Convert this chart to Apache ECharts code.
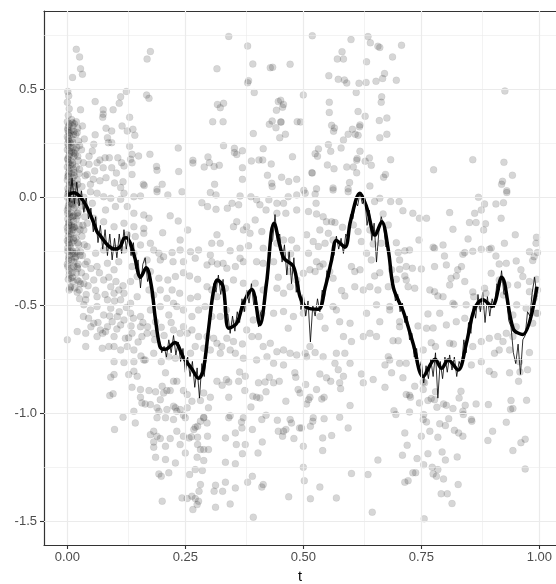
<!DOCTYPE html>
<html>
<head>
<meta charset="utf-8">
<script src="https://cdn.jsdelivr.net/npm/echarts@6/dist/echarts.min.js"></script>
<style>
html,body{margin:0;padding:0;background:#fff;}
#chart{width:556px;height:584px;}
</style>
</head>
<body>
<div id="chart"></div>
<script>
// ---------- tick labels ----------
const xTicks = [0, 0.25, 0.5, 0.75, 1];
const yTicks = [-1.5, -1, -0.5, 0, 0.5];
const xMinor = [0.125, 0.375, 0.625, 0.875];
const yMinor = [-1.25, -0.75, -0.25, 0.25, 0.75];

// ---------- observed points (t, y) ----------
const ptsBand = [
[0.001,0.49],[0.003,0.47],[0.0,0.44],[0.004,0.41],[0.002,0.38],[0.0,0.35],[0.005,0.34],[0.001,0.32],[0.003,0.3],[0.0,0.28],[0.004,0.26],[0.002,0.24],[0.0,0.22],[0.005,0.2],[0.001,0.18],[0.003,0.16],[0.0,0.14],[0.004,0.12],[0.002,0.1],[0.0,0.08],[0.005,0.06],[0.001,0.04],[0.003,0.02],[0.0,0.0],[0.004,-0.02],[0.002,-0.04],[0.0,-0.06],[0.005,-0.08],[0.001,-0.1],[0.003,-0.12],[0.0,-0.14],[0.004,-0.16],[0.002,-0.18],[0.0,-0.2],[0.005,-0.22],[0.001,-0.25],[0.003,-0.28],[0.0,-0.31],[0.004,-0.34],[0.002,-0.38],[0.006,-0.42],
[0.009,0.36],[0.012,0.33],[0.008,0.31],[0.013,0.29],[0.01,0.27],[0.007,0.25],[0.012,0.23],[0.009,0.21],[0.014,0.19],[0.008,0.17],[0.011,0.15],[0.013,0.13],[0.009,0.11],[0.012,0.09],[0.008,0.07],[0.013,0.05],[0.01,0.03],[0.007,0.01],[0.012,-0.01],[0.009,-0.03],[0.014,-0.05],[0.008,-0.07],[0.011,-0.09],[0.013,-0.11],[0.009,-0.13],[0.012,-0.15],[0.008,-0.17],[0.013,-0.19],[0.01,-0.21],[0.007,-0.23],[0.012,-0.26],[0.009,-0.29],[0.014,-0.32],[0.01,-0.35],[0.012,-0.39],
[0.019,0.35],[0.022,0.32],[0.018,0.29],[0.024,0.26],[0.02,0.23],[0.017,0.2],[0.023,0.17],[0.019,0.14],[0.025,0.11],[0.021,0.08],[0.018,0.05],[0.024,0.02],[0.02,-0.01],[0.017,-0.04],[0.023,-0.07],[0.019,-0.1],[0.025,-0.13],[0.021,-0.16],[0.018,-0.19],[0.024,-0.22],[0.02,-0.25],[0.017,-0.28],[0.023,-0.31],[0.019,-0.35],[0.025,-0.39],[0.021,-0.44],
[0.032,0.33],[0.036,0.27],[0.03,0.22],[0.034,0.16],[0.038,0.1],[0.031,0.05],[0.035,0.0],[0.03,-0.04],[0.037,-0.09],[0.033,-0.13],[0.031,-0.18],[0.036,-0.22],[0.032,-0.27],[0.038,-0.31],[0.03,-0.35],[0.035,-0.4],[0.04,-0.45],
[0.003,0.33],[0.006,0.3],[0.002,0.27],[0.006,0.23],[0.003,0.19],[0.006,0.15],[0.002,0.11],[0.006,0.07],[0.003,0.03],[0.006,-0.01],[0.002,-0.05],[0.006,-0.09],[0.003,-0.13],[0.006,-0.17],[0.002,-0.21],[0.006,-0.25],[0.003,-0.29],[0.015,0.34],[0.016,0.22],[0.015,0.1],[0.016,-0.02],[0.015,-0.14],[0.016,-0.26],
[0.001,0.31],[0.004,0.285],[0.001,0.25],[0.004,0.215],[0.001,0.175],[0.004,0.135],[0.001,0.095],[0.004,0.055],[0.001,0.015],[0.004,-0.03],[0.001,-0.075],[0.004,-0.115],[0.001,-0.155],[0.004,-0.195],[0.001,-0.235],[0.004,-0.27],[0.001,-0.32],[0.004,-0.36],
[0.011,0.345],[0.014,0.305],[0.011,0.255],[0.014,0.205],[0.011,0.16],[0.014,0.115],[0.011,0.065],[0.014,0.015],[0.011,-0.035],[0.014,-0.085],[0.011,-0.14],[0.014,-0.2],[0.011,-0.25],[0.014,-0.3],[0.011,-0.37],[0.016,-0.42],
[0.021,0.3],[0.026,0.24],[0.022,0.19],[0.026,0.13],[0.022,0.06],[0.027,-0.02],[0.022,-0.085],[0.027,-0.15],[0.022,-0.21],[0.027,-0.27],[0.022,-0.33],[0.028,-0.4],[0.026,-0.47],[0.044,-0.41]
];
const ptsTopLeft = [
[0.019,0.685],[0.026,0.65],[0.028,0.595],[0.032,0.57],[0.011,0.555],[0.169,0.64],[0.176,0.675],[0.342,0.745],[0.317,0.595],[0.382,0.70],[0.393,0.617],[0.43,0.6],[0.435,0.602],[0.472,0.616],[0.382,0.53],[0.384,0.54],[0.396,0.485],[0.125,0.49],[0.113,0.465],[0.11,0.435],[0.097,0.405],[0.059,0.443],[0.028,0.405],[0.076,0.405],[0.076,0.385],[0.075,0.37],[0.168,0.473],[0.173,0.458],[0.132,0.37],[0.116,0.33],[0.127,0.307],[0.139,0.315],[0.143,0.287],[0.082,0.32],[0.085,0.276],[0.087,0.253],[0.094,0.307],[0.094,0.253],[0.059,0.289],[0.132,0.236],[0.235,0.228],[0.175,0.199],[0.151,0.191],[0.137,0.199],[0.134,0.176],[0.137,0.16],[0.107,0.183],[0.115,0.16],[0.12,0.145],[0.089,0.183],[0.08,0.183],[0.069,0.173],[0.076,0.137],[0.056,0.245],[0.053,0.214],[0.046,0.19],[0.046,0.153],[0.063,0.16],[0.058,0.122],[0.094,0.137],[0.104,0.112],[0.118,0.072],[0.137,0.106],[0.082,0.091],[0.1,0.066],[0.113,0.045],[0.069,0.076],[0.055,0.083],[0.042,0.106],[0.049,0.06],[0.161,0.06],[0.163,0.054],[0.201,0.06],[0.19,0.037],[0.236,0.119],[0.189,0.143],[0.19,0.125],[0.266,0.171],[0.266,0.159],[0.298,0.187],[0.29,0.14],[0.301,0.16],[0.311,0.142],[0.322,0.148],[0.312,0.06],[0.331,0.239],[0.354,0.227],[0.354,0.207],[0.359,0.198],[0.371,0.215],[0.371,0.137],[0.371,0.083],[0.308,0.35],[0.33,0.35],[0.318,0.43],[0.324,0.415],[0.331,0.435],[0.39,0.168],[0.406,0.173],[0.414,0.173],[0.415,0.225],[0.432,0.154],[0.394,0.295],[0.424,0.102],[0.433,0.065],[0.434,0.05],[0.454,0.093],[0.469,0.073],[0.486,0.083],[0.477,0.188],[0.428,0.338],[0.434,0.353],[0.442,0.322],[0.452,0.349],[0.453,0.348],[0.45,0.276],[0.462,0.292],[0.443,0.403],[0.447,0.443],[0.452,0.449],[0.456,0.417],[0.458,0.43],[0.487,0.35]
];
const ptsTopRight = [
[0.519,0.748],[0.601,0.73],[0.637,0.744],[0.642,0.715],[0.658,0.699],[0.662,0.694],[0.708,0.704],[0.582,0.674],[0.572,0.64],[0.585,0.64],[0.634,0.627],[0.689,0.65],[0.554,0.563],[0.574,0.546],[0.587,0.543],[0.592,0.529],[0.618,0.528],[0.633,0.532],[0.654,0.537],[0.668,0.55],[0.672,0.573],[0.697,0.542],[0.612,0.485],[0.5,0.474],[0.555,0.44],[0.555,0.393],[0.666,0.465],[0.665,0.44],[0.616,0.397],[0.631,0.375],[0.661,0.355],[0.677,0.367],[0.56,0.333],[0.566,0.321],[0.564,0.306],[0.604,0.315],[0.62,0.335],[0.619,0.326],[0.61,0.292],[0.616,0.287],[0.595,0.292],[0.585,0.265],[0.58,0.228],[0.662,0.276],[0.677,0.292],[0.494,0.349],[0.927,0.492],[0.553,0.244],[0.532,0.224],[0.525,0.202],[0.53,0.19],[0.558,0.213],[0.62,0.213],[0.614,0.18],[0.613,0.172],[0.631,0.167],[0.64,0.182],[0.644,0.148],[0.685,0.174],[0.551,0.15],[0.565,0.132],[0.592,0.14],[0.606,0.14],[0.613,0.113],[0.518,0.114],[0.519,0.112],[0.674,0.106],[0.67,0.093],[0.598,0.068],[0.641,0.052],[0.563,0.043],[0.528,0.039],[0.501,0.032],[0.595,0.039],[0.776,0.127],[0.859,0.174],[0.925,0.162],[0.943,0.102],[0.922,0.074],[0.92,0.06],[0.931,0.03]
];
const ptsMidLeft = [
[.155,.006],[.19,.026],[.213,.011],[.243,.026],[.303,.022],[.315,.011],[.366,.006],[.389,.003],[.401,-.012],[.427,-.012],[.444,-.028],[.458,-.028],[.468,.003],[.486,.011],[.141,.003],[.12,.019],[.113,-.009],[.092,-.005],[.077,.003],[.063,.019],[.049,.026],
[.285,-.025],[.297,-.043],[.315,-.056],[.339,-.051],[.349,-.028],[.363,-.035],[.408,-.035],[.421,-.059],[.444,-.074],[.463,-.074],[.486,-.059],[.081,-.059],[.102,-.043],[.127,-.043],[.141,-.074],[.162,-.082],[.173,-.097],[.218,-.086],[.235,-.11],[.039,-.051],[.053,-.028],[.021,-.074],
[.359,-.113],[.38,-.136],[.398,-.105],[.412,-.159],[.352,-.136],[.373,-.151],[.387,-.167],[.317,-.174],[.324,-.213],[.306,-.213],[.239,-.198],[.255,-.151],[.202,-.164],[.141,-.136],[.162,-.144],[.12,-.12],[.099,-.136],[.077,-.113],[.056,-.097],[.042,-.12],[.035,-.151],[.014,-.136],
[.127,-.174],[.144,-.182],[.162,-.167],[.176,-.213],[.155,-.221],[.141,-.259],[.12,-.244],[.102,-.236],[.077,-.244],[.06,-.259],[.042,-.228],[.028,-.252],[.018,-.275],[.194,-.259],[.222,-.256],[.239,-.244],[.261,-.252],[.278,-.244],[.303,-.267],[.345,-.248],[.366,-.236],[.384,-.225],[.415,-.236],[.444,-.213],[.458,-.198],[.475,-.198],[.486,-.236],[.473,-.262],[.183,-.244],[.169,-.29],
[.204,-.275],[.197,-.29],[.224,-.298],[.246,-.298],[.271,-.282],[.306,-.298],[.318,-.309],[.33,-.306],[.338,-.329],[.356,-.321],[.366,-.282],[.373,-.298],[.401,-.298],[.415,-.306],[.437,-.298],[.447,-.37],[.472,-.344],[.486,-.383],[.007,-.329],[.021,-.321],[.042,-.298],[.063,-.321],[.085,-.306],[.099,-.336],[.109,-.298],[.137,-.321],[.148,-.367],[.176,-.344],[.194,-.375],[.213,-.383],[.229,-.367],[.246,-.349],[.259,-.364],[.276,-.38],[.296,-.313],
[.007,-.375],[.021,-.383],[.039,-.367],[.056,-.383],[.077,-.383],[.092,-.414],[.109,-.429],[.12,-.444],[.134,-.39],[.173,-.429],[.183,-.452],[.197,-.429],[.222,-.429],[.238,-.444],[.261,-.468],[.276,-.46],[.296,-.414],[.306,-.429],[.317,-.46],[.335,-.421],[.352,-.383],[.373,-.398],[.398,-.398],[.415,-.429],[.444,-.421],[.472,-.414],[.458,-.444],[.007,-.414],[.004,-.429],[.025,-.429],[.039,-.475],[.063,-.46],[.085,-.475],[.099,-.444],[.113,-.475],[.134,-.491],[.148,-.46],[.211,-.468],[.225,-.491],
[.035,-.498],[.049,-.522],[.063,-.506],[.077,-.545],[.092,-.514],[.106,-.552],[.12,-.568],[.134,-.537],[.155,-.552],[.176,-.522],[.197,-.506],[.215,-.545],[.232,-.506],[.246,-.522],[.264,-.552],[.278,-.522],[.292,-.506],[.306,-.552],[.324,-.552],[.337,-.522],[.354,-.583],[.373,-.514],[.394,-.568],[.412,-.537],[.437,-.537],[.458,-.529],[.479,-.552],[.468,-.606],[.034,-.552],[.056,-.583],[.07,-.614],[.085,-.599],[.095,-.576],[.113,-.591],[.135,-.596],[.155,-.599],[.169,-.63],[.187,-.576],[.199,-.602],
[0,-.66],[.021,-.622],[.039,-.63],[.063,-.645],[.081,-.622],[.099,-.645],[.123,-.653],[.137,-.63],[.158,-.645],[.183,-.63],[.141,-.707],[.127,-.691],[.113,-.707],[.099,-.691],[.074,-.699],[.039,-.691],[.088,-.691],[.156,-.735],[.165,-.753],[.183,-.722],[.225,-.614],[.239,-.63],[.246,-.599],[.254,-.63],[.264,-.614],[.278,-.645],[.296,-.645],[.31,-.653],[.317,-.676],[.327,-.691],[.338,-.653],[.352,-.668],[.371,-.679],[.38,-.614],[.391,-.645],[.405,-.645],[.415,-.691],[.43,-.676],[.444,-.715],[.458,-.707],[.472,-.722],[.486,-.73],[.099,-.761],[.12,-.765],[.141,-.761],[.162,-.753],[.199,-.761],[.215,-.738],[.229,-.745],[.261,-.722],[.271,-.691],[.289,-.699],[.303,-.707],[.324,-.722],[.345,-.707],[.356,-.722],[.373,-.745],[.401,-.753],[.423,-.738],[.437,-.769],[.458,-.776],
[.05,-.33],[.068,-.35],[.088,-.37],[.103,-.39],[.118,-.41],[.06,-.43],[.08,-.45],[.1,-.48],[.125,-.51],[.045,-.56],[.065,-.58],[.09,-.55],[.11,-.53],[.14,-.56],[.16,-.58],[.05,-.6],[.075,-.63],[.105,-.61],[.13,-.65],[.15,-.67],[.17,-.6],[.185,-.66],[.205,-.64],[.22,-.58]
];
const ptsMidRight = [
[.504,.019],[.525,.015],[.563,.034],[.595,.026],[.651,-.02],[.662,-.005],[.685,-.02],[.703,-.02],[.711,-.062],[.732,-.074],[.511,-.066],[.528,-.077],[.542,-.09],[.527,-.028],[.81,-.071],[.817,-.148],[.871,0],[.884,-.031],[.877,-.059],[.863,-.074],[.908,-.031],[.924,-.025],[.931,.022],[.852,-.117],[.866,-.117],[.886,-.123],[.882,-.151],[.919,-.097],[.949,-.174],[.849,-.193],[.842,-.256],[.838,-.264],[.859,-.25],[.877,-.241],[.898,-.236],[.894,-.241],[.908,-.272],[.915,-.309],[.93,-.306],[.951,-.295],[.986,-.293],[.989,-.275],[.996,-.256],[.993,-.213],[.994,-.185],[.979,-.252],[.926,-.213],[.799,-.272],[.796,-.221],[.775,-.231],[.778,-.236],
[.549,-.113],[.56,-.113],[.567,-.117],[.535,-.151],[.553,-.167],[.563,-.198],[.507,-.174],[.521,-.205],[.511,-.259],[.532,-.228],[.546,-.213],[.583,-.139],[.606,-.128],[.616,-.159],[.641,-.151],[.623,-.205],[.634,-.259],[.648,-.216],[.651,-.167],[.665,-.213],[.669,-.077],[.68,-.128],[.697,-.21],[.701,-.256],[.715,-.248],[.725,-.244],[.704,-.29],[.718,-.321],[.731,-.329],[.745,-.198],[.75,-.332],[.746,-.097],[.761,-.097],
[.5,-.352],[.514,-.336],[.525,-.344],[.535,-.321],[.542,-.309],[.528,-.298],[.556,-.344],[.563,-.375],[.602,-.321],[.609,-.344],[.62,-.336],[.644,-.29],[.651,-.364],[.662,-.349],[.687,-.336],[.697,-.38],[.704,-.333],[.715,-.364],[.718,-.383],[.722,-.414],[.736,-.421],[.68,-.414],[.641,-.414],[.658,-.429],[.627,-.429],[.609,-.414],[.588,-.457],[.581,-.432],
[.778,-.321],[.803,-.313],[.813,-.375],[.81,-.406],[.827,-.336],[.835,-.321],[.824,-.364],[.842,-.39],[.768,-.429],[.778,-.437],[.796,-.46],[.817,-.491],[.785,-.457],[.859,-.438],[.861,-.46],[.884,-.421],[.887,-.444],[.898,-.352],[.915,-.383],[.933,-.406],[.961,-.336],[.965,-.367],[.954,-.406],[.979,-.39],[.994,-.38],[.996,-.429],[.979,-.437],[.989,-.468],[.952,-.498],[.944,-.545],[.972,-.514],[.996,-.537],[.924,-.452],[.898,-.498],[.877,-.506],[.845,-.498],[.82,-.498],
[.5,-.537],[.535,-.552],[.577,-.576],[.599,-.583],[.563,-.506],[.57,-.522],[.634,-.537],[.655,-.498],[.683,-.506],[.662,-.576],[.683,-.522],[.704,-.576],[.641,-.63],[.655,-.645],[.627,-.645],[.585,-.645],[.602,-.668],[.546,-.606],[.514,-.691],[.504,-.722],[.525,-.719],[.507,-.738],[.57,-.722],[.588,-.722],[.599,-.769],[.567,-.769],[.542,-.738],[.69,-.664],[.701,-.664],[.704,-.599],[.743,-.596],[.761,-.606],[.775,-.605],[.764,-.54],[.789,-.537],[.803,-.591],[.824,-.576],[.842,-.56],[.771,-.673],[.78,-.691],[.81,-.676],[.818,-.679],[.859,-.691],[.877,-.668],[.894,-.653],[.912,-.645],[.923,-.668],[.93,-.63],[.944,-.645],[.951,-.599],[.986,-.583],[.994,-.537],[.915,-.707],[.905,-.722],[.937,-.707],[.958,-.761],[.979,-.719],[.877,-.761],[.856,-.776],[.68,-.738],[.683,-.753],[.673,-.776],[.704,-.769],[.718,-.769],[.754,-.707]
];
const ptsLowLeft = [
[.092,-.833],[.099,-.821],[.09,-.918],[.097,-.91],[.13,-.821],[.141,-.805],[.148,-.829],[.137,-.88],[.155,-.89],[.173,-.895],[.187,-.901],[.155,-.926],[.158,-.952],[.165,-.957],[.176,-.96],[.19,-.975],[.197,-.937],[.204,-.906],[.211,-.895],[.218,-.895],[.201,-.875],[.208,-.813],[.225,-.852],[.232,-.852],[.246,-.895],[.254,-.913],[.264,-.944],[.282,-.941],[.289,-.906],[.303,-.926],[.299,-.975],[.282,-1.037],[.289,-1.018],[.296,-1.045],[.254,-.975],[.239,-.983],[.229,-.975],[.225,-.967],[.232,-.991],[.246,-1.009],[.25,-1.021],[.225,-1.029],[.208,-1.021],[.19,-1.021],[.194,-.991],[.211,-.983],[.141,-.991],[.144,-1.045],[.118,-1.018],[.1,-1.075],[.176,-1.099],[.183,-1.083],[.19,-1.106],[.197,-1.117],[.183,-1.133],[.183,-1.157],[.208,-1.153],[.218,-1.117],[.232,-1.083],[.239,-1.145],[.246,-1.106],[.258,-1.114],[.263,-1.109],[.276,-1.111],[.297,-1.106],[.268,-1.075],[.271,-1.065],[.276,-1.06],[.289,-1.021],[.276,-1.145],[.282,-1.168],[.289,-1.168],[.299,-1.168],[.25,-1.184],[.275,-1.204],[.289,-1.219],[.229,-1.23],[.208,-1.214],[.187,-1.204],[.194,-1.281],[.199,-1.292],[.215,-1.276],[.259,-1.284],[.271,-1.261],[.286,-1.265],[.282,-1.33],[.279,-1.361],[.264,-1.384],[.243,-1.392],[.254,-1.395],[.271,-1.395],[.278,-1.407],[.275,-1.423],[.266,-1.446],[.201,-1.407],[.314,-1.333],[.311,-1.361],[.329,-1.361],[.335,-1.319],[.356,-1.346],[.314,-1.435],[.345,-1.42],[.382,-1.319],[.392,-1.292],[.412,-1.342],[.415,-1.33],[.394,-1.481],[.469,-1.387],[.335,-1.114],[.356,-1.091],[.358,-1.145],[.377,-1.145],[.371,-1.187],[.335,-1.227],[.356,-1.234],[.404,-1.184],[.413,-1.133],[.392,-1.075],[.37,-1.068],[.369,-1.04],[.342,-1.021],[.345,-1.011],[.373,-1.021],[.412,-1.029],[.421,-1.009],[.445,-1.032],[.472,-1.029],[.475,-1.045],[.458,-1.083],[.456,-1.106],[.447,-1.083],[.463,-1.075],[.48,-1.117],[.492,-1.068],[.389,-.971],[.393,-.921],[.401,-.926],[.408,-.929],[.421,-.901],[.376,-.895],[.328,-.87],[.342,-.855],[.342,-.926],[.363,-.852],[.365,-.809],[.377,-.829],[.405,-.859],[.419,-.855],[.428,-.833],[.437,-.859],[.449,-.852],[.482,-.813],[.484,-.833],[.463,-.944],[.489,-.89],[.317,-.852],[.337,-.844]
];
const ptsLowRight = [
[.535,-.818],[.549,-.836],[.558,-.852],[.574,-.798],[.585,-.829],[.577,-.859],[.579,-.886],[.623,-.818],[.627,-.859],[.648,-.844],[.673,-.88],[.687,-.813],[.711,-.836],[.736,-.875],[.757,-.859],[.505,-.867],[.528,-.89],[.539,-.934],[.544,-.926],[.511,-.937],[.514,-.926],[.507,-.957],[.493,-.906],[.599,-.964],[.577,-1.018],[.595,-1.068],[.544,-1.025],[.521,-1.021],[.52,-1.037],[.515,-1.06],[.496,-1.068],[.56,-1.103],[.541,-1.114],[.541,-1.173],[.5,-1.153],[.5,-1.25],[.502,-1.312],[.535,-1.342],[.515,-1.396],[.57,-1.392],[.602,-1.279],[.637,-1.284],[.658,-1.217],[.646,-1.458],[.718,-.913],[.725,-.917],[.727,-.926],[.746,-.952],[.754,-.89],[.754,-.855],[.764,-.941],[.771,-.932],[.78,-.901],[.778,-.937],[.783,-.972],[.797,-.957],[.803,-.963],[.817,-.978],[.83,-.929],[.834,-.898],[.843,-.963],[.838,-.991],[.839,-1.006],[.856,-1.029],[.857,-1.037],[.866,-.957],[.892,-.96],[.894,-.805],[.904,-.821],[.937,-.813],[.94,-.941],[.944,-.978],[.939,-.981],[.956,-.852],[.959,-.809],[.973,-.94],[.975,-.798],[.93,-1.042],[.901,-1.083],[.891,-1.126],[.944,-1.173],[.961,-1.136],[.97,-1.12],[.97,-1.258],[.692,-.988],[.696,-1.006],[.725,-.994],[.755,-1.006],[.754,-1.029],[.761,-1.04],[.789,-1.049],[.801,-1.057],[.808,-1.025],[.82,-1.079],[.829,-1.091],[.838,-1.106],[.768,-1.083],[.75,-1.106],[.785,-1.111],[.715,-1.091],[.72,-1.148],[.71,-1.194],[.741,-1.21],[.755,-1.238],[.764,-1.187],[.794,-1.179],[.801,-1.217],[.826,-1.202],[.773,-1.25],[.785,-1.261],[.775,-1.281],[.782,-1.292],[.797,-1.304],[.738,-1.275],[.732,-1.276],[.722,-1.312],[.715,-1.319],[.828,-1.33],[.792,-1.373],[.805,-1.373],[.815,-1.418],[.756,-1.489]
];

// ---------- smoothed estimate (thick line) ----------
const smoothT = [0,0.013,0.027,0.041,0.055,0.063,0.069,0.087,0.101,0.112,0.12,0.125,0.134,0.143,0.155,0.167,0.178,0.186,0.196,0.204,0.211,0.228,0.246,0.264,0.278,0.288,0.299,0.309,0.318,0.33,0.342,0.359,0.373,0.391,0.408,0.422,0.438,0.458,0.479,0.493,0.507,0.532,0.546,0.56,0.57,0.588,0.6,0.62,0.634,0.652,0.666,0.68,0.691,0.712,0.733,0.754,0.779,0.793,0.807,0.828,0.845,0.862,0.88,0.9,0.92,0.945,0.965,0.995];
const smoothY = [0.01,0.021,0.003,-0.044,-0.113,-0.16,-0.175,-0.225,-0.24,-0.228,-0.19,-0.187,-0.215,-0.28,-0.37,-0.326,-0.41,-0.553,-0.69,-0.704,-0.702,-0.672,-0.742,-0.795,-0.838,-0.8,-0.614,-0.444,-0.383,-0.414,-0.606,-0.583,-0.491,-0.427,-0.59,-0.398,-0.12,-0.28,-0.32,-0.46,-0.51,-0.518,-0.42,-0.29,-0.2,-0.231,-0.11,0.019,-0.045,-0.175,-0.113,-0.244,-0.42,-0.53,-0.68,-0.83,-0.75,-0.792,-0.753,-0.8,-0.68,-0.52,-0.475,-0.505,-0.37,-0.61,-0.635,-0.414];

// ---------- raw estimate (thin line) ----------
const rawT = [0,0.005,0.01,0.015,0.02,0.025,0.03,0.035,0.04,0.045,0.05,0.055,0.06,0.065,0.07,0.075,0.08,0.085,0.09,0.095,0.1,0.105,0.11,0.115,0.12,0.125,0.13,0.135,0.14,0.145,0.15,0.155,0.16,0.165,0.17,0.175,0.18,0.185,0.19,0.195,0.2,0.205,0.21,0.215,0.22,0.225,0.23,0.235,0.24,0.245,0.25,0.255,0.26,0.265,0.27,0.275,0.28,0.285,0.29,0.295,0.3,0.305,0.31,0.315,0.32,0.325,0.33,0.335,0.34,0.345,0.35,0.355,0.36,0.365,0.37,0.375,0.38,0.385,0.39,0.395,0.4,0.405,0.41,0.415,0.42,0.425,0.43,0.435,0.44,0.445,0.45,0.455,0.46,0.465,0.47,0.475,0.48,0.485,0.49,0.495,0.5,0.505,0.51,0.515,0.52,0.525,0.53,0.535,0.54,0.545,0.55,0.555,0.56,0.565,0.57,0.575,0.58,0.585,0.59,0.595,0.6,0.605,0.61,0.615,0.62,0.625,0.63,0.635,0.64,0.645,0.65,0.655,0.66,0.665,0.67,0.675,0.68,0.685,0.69,0.695,0.7,0.705,0.71,0.715,0.72,0.725,0.73,0.735,0.74,0.745,0.75,0.755,0.76,0.765,0.77,0.775,0.78,0.785,0.79,0.795,0.8,0.805,0.81,0.815,0.82,0.825,0.83,0.835,0.84,0.845,0.85,0.855,0.86,0.865,0.87,0.875,0.88,0.885,0.89,0.895,0.9,0.905,0.91,0.915,0.92,0.925,0.93,0.935,0.94,0.945,0.95,0.955,0.96,0.965,0.97,0.975,0.98,0.985,0.99,0.995];
const rawY = [0.05,-0.02,0.09,-0.03,0.07,-0.04,0.03,-0.07,0.0,-0.1,-0.05,-0.16,-0.09,-0.21,-0.13,-0.24,-0.15,-0.27,-0.17,-0.29,-0.19,-0.28,-0.17,-0.26,-0.15,-0.24,-0.16,-0.27,-0.21,-0.33,-0.29,-0.42,-0.31,-0.28,-0.39,-0.35,-0.47,-0.51,-0.64,-0.66,-0.72,-0.69,-0.74,-0.66,-0.72,-0.64,-0.73,-0.67,-0.76,-0.7,-0.81,-0.74,-0.83,-0.76,-0.88,-0.79,-0.93,-0.77,-0.83,-0.72,-0.57,-0.55,-0.4,-0.44,-0.36,-0.45,-0.38,-0.55,-0.54,-0.63,-0.55,-0.62,-0.53,-0.58,-0.47,-0.53,-0.43,-0.49,-0.4,-0.5,-0.46,-0.6,-0.53,-0.52,-0.39,-0.38,-0.22,-0.2,-0.08,-0.2,-0.17,-0.3,-0.22,-0.36,-0.25,-0.4,-0.28,-0.44,-0.39,-0.52,-0.45,-0.55,-0.48,-0.67,-0.5,-0.55,-0.47,-0.53,-0.43,-0.46,-0.34,-0.37,-0.26,-0.27,-0.18,-0.24,-0.19,-0.26,-0.17,-0.19,-0.08,-0.1,-0.02,-0.04,0.02,-0.03,0.0,-0.13,-0.06,-0.2,-0.12,-0.3,-0.16,-0.09,-0.13,-0.23,-0.21,-0.36,-0.38,-0.48,-0.45,-0.53,-0.49,-0.58,-0.55,-0.66,-0.63,-0.74,-0.7,-0.8,-0.76,-0.86,-0.78,-0.84,-0.75,-0.83,-0.72,-0.93,-0.76,-0.84,-0.74,-0.81,-0.73,-0.8,-0.74,-0.83,-0.76,-0.79,-0.66,-0.72,-0.58,-0.63,-0.5,-0.56,-0.45,-0.53,-0.44,-0.58,-0.46,-0.55,-0.47,-0.51,-0.4,-0.43,-0.34,-0.45,-0.44,-0.57,-0.6,-0.72,-0.77,-0.68,-0.82,-0.66,-0.64,-0.53,-0.55,-0.44,-0.37,-0.46];

// ---------- build ----------
const points = [].concat(ptsBand, ptsTopLeft, ptsTopRight, ptsMidLeft, ptsMidRight, ptsLowLeft, ptsLowRight);
const smoothData = smoothT.map((t, i) => [t, smoothY[i]]);
const rawData = rawT.map((t, i) => [t, rawY[i]]);

const X_MIN = -0.0494, X_MAX = 1.0353;
const gridColor = '#EBEBEB';
const frame = '#333333';
const fontFam = 'Liberation Sans, Arial, sans-serif';
function vLines(vals) { return vals.map(v => ({ xAxis: v })); }
function hLines(vals) { return vals.map(v => ({ yAxis: v })); }

const chart = echarts.init(document.getElementById('chart'), null, { renderer: 'canvas' });
chart.setOption({
  animation: false,
  backgroundColor: '#fff',
  textStyle: { fontFamily: fontFam },
  grid: { left: 44, top: 11, right: 0, bottom: 39, show: false, containLabel: false, outerBoundsMode: 'none' },
  xAxis: [{
    type: 'value', min: X_MIN, max: X_MAX, position: 'bottom',
    name: 't', nameLocation: 'middle', nameGap: 24,
    nameTextStyle: { color: '#000', fontSize: 14.5, fontFamily: fontFam },
    axisLine: { show: true, onZero: false, lineStyle: { color: frame, width: 1.2 } },
    axisTick: { show: true, customValues: xTicks, length: 4, lineStyle: { color: frame, width: 1.1 } },
    axisLabel: { customValues: xTicks, color: '#4D4D4D', fontSize: 13, margin: 6,
      formatter: v => v.toFixed(2) },
    splitLine: { show: false }
  }, {
    type: 'value', min: X_MIN, max: X_MAX, position: 'top',
    axisLine: { show: true, onZero: false, lineStyle: { color: frame, width: 1.2 } },
    axisTick: { show: false }, axisLabel: { show: false }, splitLine: { show: false }
  }],
  yAxis: {
    type: 'value', min: -1.61, max: 0.8625,
    axisLine: { show: true, onZero: false, lineStyle: { color: frame, width: 1.2 } },
    axisTick: { show: true, customValues: yTicks, length: 4, lineStyle: { color: frame, width: 1.1 } },
    axisLabel: { customValues: yTicks, color: '#4D4D4D', fontSize: 13, margin: 7,
      formatter: v => v.toFixed(1) },
    splitLine: { show: false }
  },
  series: [
    {
      type: 'line', data: [], z: 0, silent: true,
      markLine: {
        silent: true, symbol: ['none', 'none'], label: { show: false }, animation: false,
        lineStyle: { color: gridColor, width: 0.6, type: 'solid' },
        data: vLines(xMinor).concat(hLines(yMinor))
      }
    },
    {
      type: 'line', data: [], z: 0, silent: true,
      markLine: {
        silent: true, symbol: ['none', 'none'], label: { show: false }, animation: false,
        lineStyle: { color: gridColor, width: 1.2, type: 'solid' },
        data: vLines(xTicks).concat(hLines(yTicks))
      }
    },
    {
      type: 'scatter', data: points, symbol: 'circle', symbolSize: 7, z: 2, silent: true,
      itemStyle: { color: 'rgba(0,0,0,0.16)', borderColor: 'rgba(0,0,0,0.09)', borderWidth: 0.6, opacity: 1 }
    },
    {
      type: 'line', data: rawData, showSymbol: false, z: 3, silent: true,
      lineStyle: { color: '#000', width: 0.8 }
    },
    {
      type: 'line', data: smoothData, showSymbol: false, smooth: 0.35, z: 4, silent: true,
      lineStyle: { color: '#000', width: 3.5 }
    }
  ]
});
</script>
</body>
</html>
